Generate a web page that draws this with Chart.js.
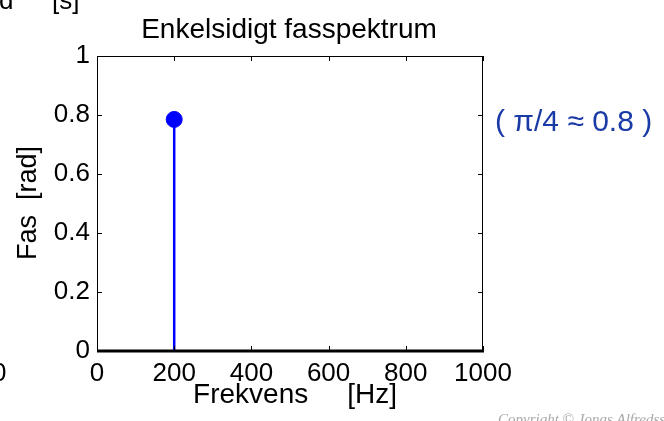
<!DOCTYPE html>
<html>
<head>
<meta charset="utf-8">
<script src="https://cdn.jsdelivr.net/npm/chart.js@4.4.0/dist/chart.umd.min.js"></script>
<style>
    body { margin: 0; background: #fff; }
    #wrap { width: 664px; height: 421px; }
</style>
</head>
<body>
<div id="wrap"><canvas id="phase-chart" width="664" height="421"></canvas></div>
<script>
// Chart data
let freqs = [200];
let phase = [0.785];
let xTicks = [0, 200, 400, 600, 800, 1000];
let yTicks = [0, 0.2, 0.4, 0.6, 0.8, 1];

let blue = "#0000ff";
let font = "'Liberation Sans', Arial, sans-serif";

// draws box, inward ticks and the texts around the axes
const matlabAxes = {
    id: "matlabAxes",
    afterDraw(chart) {
        const ctx = chart.ctx;
        const a = chart.chartArea;
        const xs = chart.scales.x;
        const ys = chart.scales.y;
        ctx.save();
        ctx.strokeStyle = "#000";
        ctx.lineWidth = 1;
        ctx.beginPath();
        ctx.moveTo(a.left + 0.5, a.bottom);
        ctx.lineTo(a.left + 0.5, a.top + 0.5);
        ctx.lineTo(a.right - 0.5, a.top + 0.5);
        ctx.lineTo(a.right - 0.5, a.bottom);
        xTicks.forEach((t) => {
            const px = Math.round(xs.getPixelForValue(t)) + 0.5;
            ctx.moveTo(px, a.top);
            ctx.lineTo(px, a.top + 5);
            ctx.moveTo(px, a.bottom);
            ctx.lineTo(px, a.bottom - 5);
        });
        yTicks.forEach((t) => {
            const py = Math.round(ys.getPixelForValue(t)) + 0.5;
            ctx.moveTo(a.left, py);
            ctx.lineTo(a.left + 5, py);
            ctx.moveTo(a.right, py);
            ctx.lineTo(a.right - 5, py);
        });
        ctx.stroke();
        // thick baseline
        ctx.lineWidth = 3;
        ctx.beginPath();
        ctx.moveTo(a.left, a.bottom);
        ctx.lineTo(a.right + 1, a.bottom);
        ctx.stroke();

        ctx.fillStyle = "#000";
        ctx.textAlign = "center";
        ctx.textBaseline = "alphabetic";
        ctx.font = `28px ${font}`;
        ctx.fillText("Enkelsidigt fasspektrum", 289, 38);
        ctx.fillText("Frekvens     [Hz]", 295, 403);
        ctx.font = `27px ${font}`;
        ctx.save();
        ctx.translate(36, 203);
        ctx.rotate(-Math.PI / 2);
        ctx.fillText("Fas  [rad]", 0, 0);
        ctx.restore();

        // pieces of the neighbouring plot
        ctx.textAlign = "left";
        ctx.font = `26px ${font}`;
        ctx.fillText("d", -1, 9);
        ctx.fillText("[s]", 52, 9);
        ctx.fillText("0", -8, 381);

        // annotation
        ctx.fillStyle = "#1a3aa6";
        ctx.font = `30px ${font}`;
        ctx.fillText("( \u03c0/4 \u2248 0.8 )", 495, 131);

        // copyright
        ctx.fillStyle = "#a8a8a8";
        ctx.font = `italic 15px 'Liberation Serif', serif`;
        ctx.fillText("Copyright \u00a9 Jonas Alfredsson", 498, 424);
        ctx.restore();
    },
};

const ctx = document.getElementById("phase-chart").getContext("2d");
const chart = new Chart(ctx, {
    type: "scatter",
    data: {
        datasets: [
            {
                type: "line",
                data: [
                    { x: freqs[0], y: 0 },
                    { x: freqs[0], y: phase[0] },
                ],
                borderColor: blue,
                borderWidth: 2.5,
                pointRadius: 0,
            },
            {
                data: freqs.map((f, i) => ({ x: f, y: phase[i] })),
                backgroundColor: blue,
                borderColor: blue,
                pointRadius: 8,
            },
        ],
    },
    options: {
        responsive: false,
        animation: false,
        layout: {
            padding: { left: 0, top: 56, right: 181, bottom: 0 },
        },
        plugins: {
            legend: { display: false },
            tooltip: { enabled: false },
        },
        scales: {
            x: {
                type: "linear",
                min: 0,
                max: 1000,
                afterBuildTicks: (s) => { s.ticks = xTicks.map((v) => ({ value: v })); },
                afterFit: (s) => { s.height = 70; },
                grid: { display: false },
                border: { display: false },
                ticks: {
                    color: "#000",
                    padding: -1,
                    maxRotation: 0,
                    font: { family: font, size: 26 },
                    callback: (v) => String(v),
                },
            },
            y: {
                min: 0,
                max: 1,
                afterBuildTicks: (s) => { s.ticks = yTicks.map((v) => ({ value: v })); },
                afterFit: (s) => { s.width = 97; },
                grid: { display: false },
                border: { display: false },
                ticks: {
                    color: "#000",
                    padding: -1,
                    font: { family: font, size: 26 },
                    callback: (v) => String(v),
                },
            },
        },
    },
    plugins: [matlabAxes],
});
</script>
</body>
</html>
